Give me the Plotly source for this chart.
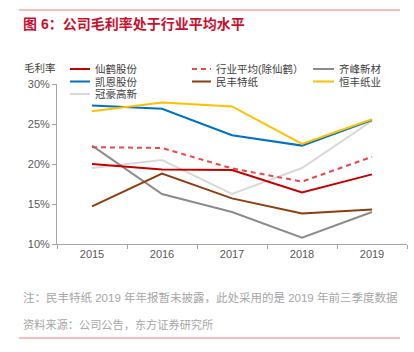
import plotly.graph_objects as go

years = ["2015", "2016", "2017", "2018", "2019"]
xianhe = [20.0, 19.3, 19.25, 16.45, 18.7]
industry_avg = [22.1, 22.0, 19.45, 17.8, 20.9]
qifeng = [22.3, 16.25, 14.0, 10.8, 14.0]
kaien = [27.3, 26.9, 23.6, 22.3, 25.5]
minfeng = [14.7, 18.8, 15.7, 13.8, 14.3]
hengfeng = [26.6, 27.7, 27.2, 22.5, 25.6]
guanhao = [19.5, 20.5, 16.25, 19.5, 25.4]

yticks = [10, 15, 20, 25, 30]
ytick_text = ["10%", "15%", "20%", "25%", "30%"]

series = [
    ("冠豪高新", guanhao, "#D9D9D9", "solid"),
    ("齐峰新材", qifeng, "#8C8C8C", "solid"),
    ("民丰特纸", minfeng, "#8B3F0F", "solid"),
    ("行业平均(除仙鹤）", industry_avg, "#E8474B", "5px,4px"),
    ("仙鹤股份", xianhe, "#C00000", "solid"),
    ("凯恩股份", kaien, "#0070C0", "solid"),
    ("恒丰纸业", hengfeng, "#FFC000", "solid"),
]

W, H = 414, 352
L, R, T, B = 57, 407, 84, 244

def px(x):
    return (x - L) / (R - L)

def py(y):
    return (B - y) / (B - T)

fig = go.Figure()
for name, vals, color, dash in series:
    fig.add_trace(go.Scatter(x=years, y=vals, mode="lines", name=name,
                             line=dict(color=color, width=2, dash=dash),
                             showlegend=False, hoverinfo="skip"))

num_font = "Liberation Sans Narrow, Arial Narrow, Liberation Sans, Arial, sans-serif"
cjk_font = "Liberation Sans, Noto Sans CJK SC, sans-serif"

shapes = []
annotations = []

legend_items = [
    ("仙鹤股份", "#C00000", "solid", 70, 90, 93, 69),
    ("行业平均(除仙鹤）", "#E8474B", "5px,4px", 192, 211, 214, 69),
    ("齐峰新材", "#8C8C8C", "solid", 313, 334, 337, 69),
    ("凯恩股份", "#0070C0", "solid", 70, 90, 93, 81.5),
    ("民丰特纸", "#8B3F0F", "solid", 192, 211, 214, 81.5),
    ("恒丰纸业", "#FFC000", "solid", 313, 334, 337, 81.5),
    ("冠豪高新", "#D9D9D9", "solid", 70, 90, 93, 94),
]
for name, color, dash, x0, x1, tx, y in legend_items:
    shapes.append(dict(type="line", xref="paper", yref="paper",
                       x0=px(x0), x1=px(x1), y0=py(y), y1=py(y),
                       line=dict(color=color, width=2, dash=dash)))
    annotations.append(dict(text=name, xref="paper", yref="paper",
                            x=px(tx), y=py(y), xanchor="left", yanchor="middle",
                            showarrow=False,
                            font=dict(family=cjk_font, size=10.5, color="#404040")))

annotations.append(dict(text="毛利率", xref="paper", yref="paper",
                        x=px(58), y=py(68), xanchor="right", yanchor="middle",
                        showarrow=False, font=dict(family=cjk_font, size=10.5, color="#404040")))

annotations.append(dict(text="<b>图 6：公司毛利率处于行业平均水平</b>", xref="paper", yref="paper",
                        x=px(21), y=py(24), xanchor="left", yanchor="middle",
                        showarrow=False, font=dict(family=cjk_font, size=14, color="#C8102E")))

annotations.append(dict(text="注：民丰特纸 2019 年年报暂未披露，此处采用的是 2019 年前三季度数据",
                        xref="paper", yref="paper", x=px(21), y=py(297),
                        xanchor="left", yanchor="middle", showarrow=False,
                        font=dict(family=cjk_font, size=11.5, color="#A6A6A6")))
annotations.append(dict(text="资料来源：公司公告，东方证券研究所",
                        xref="paper", yref="paper", x=px(21), y=py(324),
                        xanchor="left", yanchor="middle", showarrow=False,
                        font=dict(family=cjk_font, size=11.2, color="#A6A6A6")))

shapes.append(dict(type="line", xref="paper", yref="paper",
                   x0=px(19), x1=px(400), y0=py(10), y1=py(10),
                   line=dict(color="#E87C7C", width=1)))
shapes.append(dict(type="line", xref="paper", yref="paper",
                   x0=px(19), x1=px(400), y0=py(338), y1=py(338),
                   line=dict(color="#E87C7C", width=1)))

fig.update_layout(
    width=W, height=H,
    margin=dict(l=L, r=W - R, t=T, b=H - B, autoexpand=False),
    paper_bgcolor="white", plot_bgcolor="white",
    showlegend=False,
    shapes=shapes, annotations=annotations,
    xaxis=dict(type="category", tickson="boundaries", ticks="outside", ticklen=4,
               tickcolor="#A6A6A6", showline=True, linecolor="#A6A6A6", linewidth=1,
               showgrid=False, zeroline=False, range=[-0.5, 4.5],
               tickfont=dict(family=num_font, size=11, color="#595959")),
    yaxis=dict(range=[10, 30], tickvals=yticks, ticktext=ytick_text,
               ticks="outside", ticklen=4, tickcolor="#A6A6A6",
               showline=True, linecolor="#A6A6A6", linewidth=1,
               showgrid=False, zeroline=False,
               tickfont=dict(family=num_font, size=11, color="#595959")),
)

fig.write_html("out.html")
